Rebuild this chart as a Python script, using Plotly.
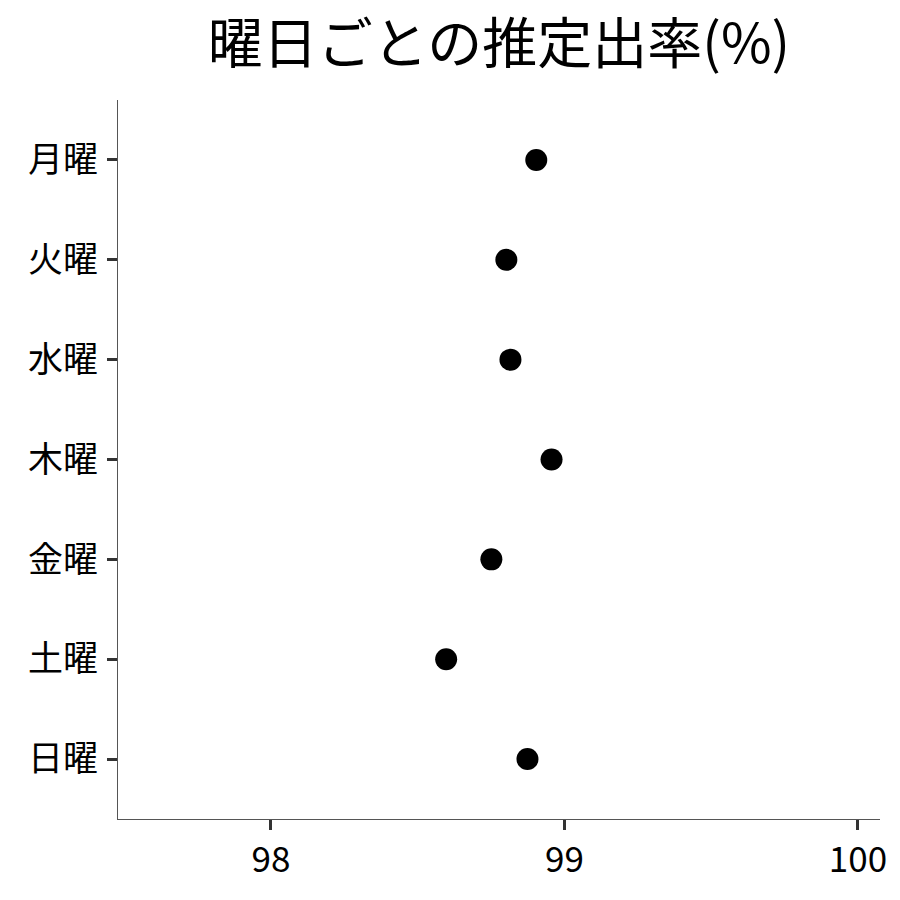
import plotly.graph_objects as go

# 曜日ごとの推定出率
days: list[str] = ['月曜', '火曜', '水曜', '木曜', '金曜', '土曜', '日曜']
rates: list[float] = [98.904, 98.802, 98.816, 98.956, 98.751, 98.597, 98.874]
x_ticks: list[int] = [98, 99, 100]

font_family = '"Noto Sans CJK JP", "Noto Sans", sans-serif'

fig = go.Figure(
    go.Scatter(
        x=rates,
        y=days,
        mode='markers',
        marker={'size': 22, 'color': 'black'},
        showlegend=False,
    )
)

# the page body adds an 8px margin, so the plot box is shifted back by 8px
fig.update_layout(
    width=900,
    height=900,
    margin={'l': 110, 'r': 28, 't': 92, 'b': 89},
    plot_bgcolor='white',
    paper_bgcolor='white',
    font={'family': font_family, 'color': 'black'},
    title={
        'text': '曜日ごとの推定出率(%)',
        'x': 0.5,
        'xref': 'paper',
        'xanchor': 'center',
        'y': 0.96,
        'yref': 'container',
        'yanchor': 'middle',
        'font': {'size': 55, 'family': font_family, 'color': 'black'},
    },
)

fig.update_xaxes(
    range=[97.479, 100.075],
    tickvals=x_ticks,
    ticktext=[str(t) for t in x_ticks],
    showgrid=False,
    zeroline=False,
    showline=True,
    linecolor='#555555',
    linewidth=1,
    ticks='outside',
    ticklen=10,
    tickwidth=3,
    tickcolor='#333333',
    ticklabelstandoff=0,
    tickfont={'size': 35, 'color': 'black'},
)

fig.update_yaxes(
    categoryorder='array',
    categoryarray=days[::-1],
    range=[-0.6, 6.6],
    showgrid=False,
    zeroline=False,
    showline=True,
    linecolor='#555555',
    linewidth=1,
    ticks='outside',
    ticklen=10,
    tickwidth=3,
    tickcolor='#333333',
    ticklabelstandoff=2,
    tickfont={'size': 35, 'color': 'black'},
)

fig.write_html('out.html')
